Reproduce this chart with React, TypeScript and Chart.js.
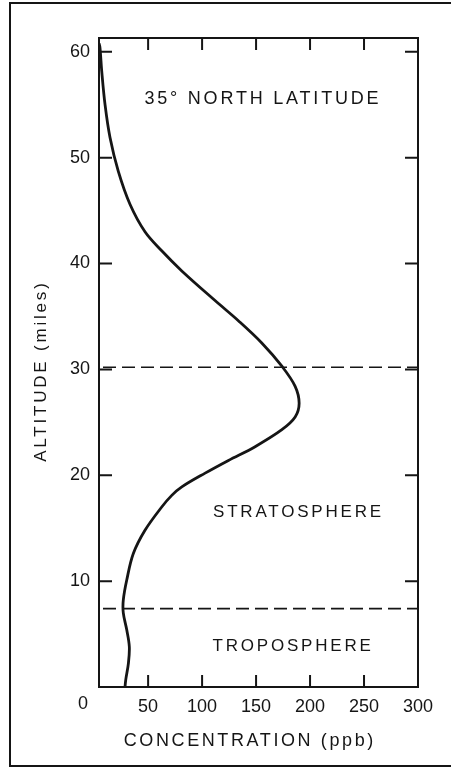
import React, { useEffect, useRef } from 'react';
import { Chart, registerables } from 'chart.js';

Chart.register(...registerables);

// Ozone concentration profile (35° N)
const altitudeMiles = [60.8, 60.4, 58.2, 55.0, 51.9, 48.7, 45.6, 43.0, 41.2, 39.3, 36.5, 34.6, 32.5, 30.3, 28.4, 26.8, 25.5, 24.3, 22.7, 21.4, 20.2, 18.9, 18.1, 17.0, 14.8, 12.6, 10.1, 8.2, 7.0, 5.4, 3.8, 2.2, 0.7, 0];
const concentrationPpb = [4.5, 5.4, 7.0, 10.1, 14.7, 22.4, 33.2, 47.1, 62.6, 81.2, 112.0, 133.6, 155.3, 173.9, 186.2, 189.9, 186.2, 173.9, 149.1, 124.4, 102.8, 81.2, 71.9, 62.6, 47.1, 36.3, 30.2, 27.0, 27.0, 30.2, 32.6, 31.7, 29.3, 28.6];

const xTickValues = [50, 100, 150, 200, 250, 300];
const yTickValues = [10, 20, 30, 40, 50, 60];
const boundaryAltitudes = [30.2, 7.4];

const xTitle = 'CONCENTRATION (ppb)';
const yTitle = 'ALTITUDE (miles)';
const latitudeLabel = '35° NORTH LATITUDE';
const stratosphereLabel = 'STRATOSPHERE';
const troposphereLabel = 'TROPOSPHERE';

const INK = '#151515';
const FONT = '"Liberation Sans", Arial, Helvetica, sans-serif';

export default function App() {
  const canvasRef = useRef<HTMLCanvasElement | null>(null);

  useEffect(() => {
    document.body.style.margin = '0';
    document.body.style.background = '#ffffff';
    const canvas = canvasRef.current;
    if (!canvas) return;

    const decor = {
      id: 'decor',
      beforeDraw(chart: any) {
        const ctx = chart.ctx;
        ctx.save();
        ctx.fillStyle = '#ffffff';
        ctx.fillRect(0, 0, chart.width, chart.height);
        ctx.restore();
      },
      afterDraw(chart: any) {
        const ctx = chart.ctx as CanvasRenderingContext2D;
        const { left, right, top, bottom } = chart.chartArea;
        const xs = chart.scales.x;
        const ys = chart.scales.y;
        ctx.save();

        // outer frame
        ctx.strokeStyle = INK;
        ctx.lineWidth = 2;
        ctx.beginPath();
        ctx.moveTo(chart.width, 3);
        ctx.lineTo(10, 3);
        ctx.lineTo(10, 766);
        ctx.lineTo(chart.width, 766);
        ctx.stroke();

        // plot frame
        ctx.lineWidth = 2;
        ctx.strokeRect(left, top, right - left, bottom - top);

        // inward ticks
        ctx.lineWidth = 2;
        ctx.beginPath();
        yTickValues.forEach((v) => {
          const py = ys.getPixelForValue(v);
          ctx.moveTo(left, py);
          ctx.lineTo(left + 13, py);
          ctx.moveTo(right, py);
          ctx.lineTo(right - 13, py);
        });
        xTickValues.forEach((v) => {
          if (v >= 300) return;
          const px = xs.getPixelForValue(v);
          ctx.moveTo(px, top);
          ctx.lineTo(px, top + 12);
          ctx.moveTo(px, bottom);
          ctx.lineTo(px, bottom - 12);
        });
        ctx.stroke();

        // dashed boundaries
        ctx.lineWidth = 1.6;
        ctx.setLineDash([13, 6]);
        ctx.beginPath();
        boundaryAltitudes.forEach((a) => {
          const py = ys.getPixelForValue(a);
          ctx.moveTo(left + 4, py);
          ctx.lineTo(right, py);
        });
        ctx.stroke();
        ctx.setLineDash([]);

        // texts
        ctx.fillStyle = INK;
        ctx.textBaseline = 'middle';
        ctx.textAlign = 'center';
        const put = (t: string, x: number, y: number, size: number, sp: number, rot = 0) => {
          ctx.save();
          ctx.font = `${size}px ${FONT}`;
          (ctx as any).letterSpacing = `${sp}px`;
          ctx.translate(x, y);
          ctx.rotate(rot);
          ctx.fillText(t, sp / 2, 0);
          ctx.restore();
        };
        put(latitudeLabel, xs.getPixelForValue(155), ys.getPixelForValue(55.5), 18, 2.8);
        put(stratosphereLabel, xs.getPixelForValue(188), ys.getPixelForValue(16.5), 17, 2.8);
        put(troposphereLabel, xs.getPixelForValue(183), ys.getPixelForValue(3.8), 17, 2.8);
        put(xTitle, (left + right) / 2 - 10, 741, 18, 2.6);
        put(yTitle, 41, (top + bottom) / 2 + 10, 17, 2.8, -Math.PI / 2);
        // shared origin label
        put('0', 83, 704, 18, 0);
        ctx.restore();
      },
    };

    const chart = new Chart(canvas, {
      type: 'scatter',
      data: {
        datasets: [
          {
            data: altitudeMiles.map((a, i) => ({ x: concentrationPpb[i], y: a })),
            showLine: true,
            borderColor: INK,
            borderWidth: 2.8,
            pointRadius: 0,
            tension: 0.35,
            fill: false,
          },
        ],
      },
      options: {
        responsive: false,
        animation: false,
        events: [],
        layout: { padding: { left: 10, top: 38, right: 33, bottom: 0 } },
        plugins: { legend: { display: false }, tooltip: { enabled: false } },
        scales: {
          x: {
            type: 'linear',
            min: 4.5,
            max: 300,
            grid: { display: false, drawTicks: false },
            border: { display: false },
            afterBuildTicks: (s: any) => {
              s.ticks = xTickValues.map((v) => ({ value: v }));
            },
            afterFit: (s: any) => {
              s.height = 80;
            },
            ticks: {
              autoSkip: false,
              maxRotation: 0,
              padding: 9,
              color: INK,
              font: { family: FONT, size: 18 },
            },
          },
          y: {
            type: 'linear',
            min: 0,
            max: 61.3,
            grid: { display: false, drawTicks: false },
            border: { display: false },
            afterBuildTicks: (s: any) => {
              s.ticks = yTickValues.map((v) => ({ value: v }));
            },
            afterFit: (s: any) => {
              s.width = 89;
            },
            ticks: {
              autoSkip: false,
              padding: 9,
              color: INK,
              font: { family: FONT, size: 18 },
            },
          },
        },
      },
      plugins: [decor],
    });

    return () => chart.destroy();
  }, []);

  return <canvas ref={canvasRef} width={451} height={767} style={{ display: 'block' }} />;
}
